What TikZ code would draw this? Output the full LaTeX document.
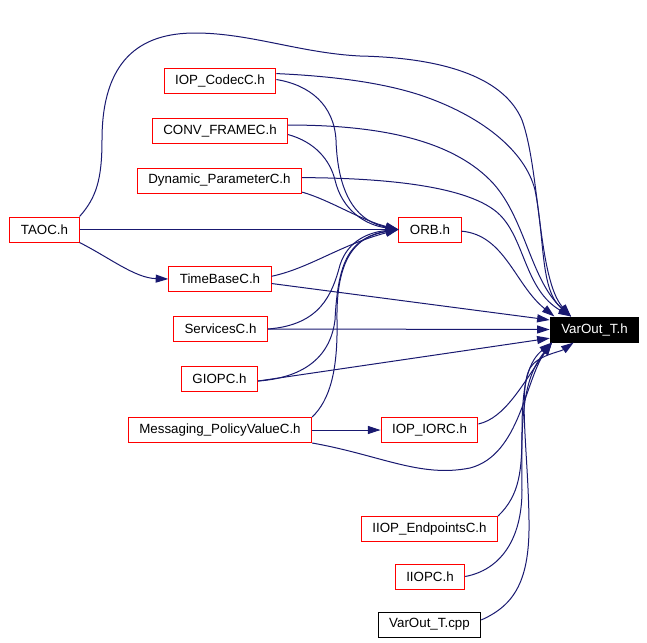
\documentclass[tikz,border=0pt]{standalone}
\usepackage{fontspec}
\setmainfont{Liberation Sans}
\usetikzlibrary{arrows.meta}
\definecolor{edgeblue}{HTML}{191970}
\begin{document}
\begin{tikzpicture}[
    x=0.75pt, y=-0.75pt,
    file/.style={rectangle, draw=red, line width=0.75pt, fill=white, inner xsep=8.25pt, minimum height=18.75pt, font=\fontsize{10}{12}\selectfont},
    plainfile/.style={file, draw=black},
    mainfile/.style={file, draw=black, fill=black, text=white},
    arrow/.style={draw=edgeblue, line width=0.75pt, -{Triangle[length=9.5pt,width=6pt]}}
]
    \useasboundingbox (0,0) rectangle (647,643);
    \node[file] (taoc) at (44.5,229.5) {TAOC.h};
    \node[file] (codec) at (220,80.5) {IOP\_CodecC.h};
    \node[file] (conv) at (220,131) {CONV\_FRAMEC.h};
    \node[file] (dynparam) at (219.5,180.5) {Dynamic\_ParameterC.h};
    \node[file] (timebase) at (220,279) {TimeBaseC.h};
    \node[file] (services) at (220.5,329) {ServicesC.h};
    \node[file] (giopc) at (219.5,379) {GIOPC.h};
    \node[file] (msgpolicy) at (220,430) {Messaging\_PolicyValueC.h};
    \node[file] (orb) at (430,229.5) {ORB.h};
    \node[mainfile] (varout) at (594.5,329.5) {VarOut\_T.h};
    \node[file] (iorc) at (429.5,430) {IOP\_IORC.h};
    \node[file] (endpoints) at (429.5,529) {IIOP\_EndpointsC.h};
    \node[file] (iiopc) at (430,576.5) {IIOPC.h};
    \node[plainfile] (varoutcpp) at (429.5,624.5) {VarOut\_T.cpp};

    \draw[arrow] (taoc.east) -- (orb.west);
    \draw[arrow] (taoc.south east) .. controls (110,258) and (135,278) .. (timebase.west);
    \draw[arrow] (taoc.north east) .. controls (96,198) and (102,180) .. (102,140)
        .. controls (102,60) and (140,33) .. (195,33)
        .. controls (250,33) and (300,53) .. (360,56)
        .. controls (450,58) and (505,80) .. (522,120)
        .. controls (540,170) and (538,280) .. (varout.151);

    \draw[arrow] (codec.7) .. controls (330,76) and (380,82) .. (420,95)
        .. controls (480,115) and (525,150) .. (535,190)
        .. controls (545,240) and (540,290) .. (varout.151);
    \draw[arrow] (codec.1) .. controls (310,85) and (334,105) .. (336,140)
        .. controls (338,200) and (360,222) .. (orb.west);

    \draw[arrow] (conv.5) .. controls (380,125) and (450,140) .. (490,180)
        .. controls (525,215) and (530,280) .. (varout.151);
    \draw[arrow] (conv.-3) .. controls (315,142) and (330,160) .. (335,180)
        .. controls (342,210) and (365,225) .. (orb.west);

    \draw[arrow] (dynparam.2) .. controls (380,178) and (470,185) .. (500,215)
        .. controls (525,240) and (525,290) .. (varout.151);
    \draw[arrow] (dynparam.-8) .. controls (330,200) and (360,220) .. (orb.west);

    \draw[arrow] (timebase.3) .. controls (310,268) and (340,245) .. (orb.west);
    \draw[arrow] (timebase.-5) -- (varout.168);

    \draw[arrow] (services.east) .. controls (320,325) and (332,295) .. (340,265)
        .. controls (348,240) and (370,232) .. (orb.west);
    \draw[arrow] (services.east) -- (varout.west);

    \draw[arrow] (giopc.-3) .. controls (300,378) and (330,360) .. (335,320)
        .. controls (338,260) and (350,238) .. (orb.west);
    \draw[arrow] (giopc.-3) -- (varout.191);

    \draw[arrow] (msgpolicy.north east) .. controls (330,400) and (338,370) .. (337,320)
        .. controls (336,260) and (355,236) .. (orb.west);
    \draw[arrow] (msgpolicy.east) -- (iorc.west);
    \draw[arrow] (msgpolicy.south east) .. controls (380,455) and (420,478) .. (470,468)
        .. controls (520,455) and (525,380) .. (varout.197);

    \draw[arrow] (orb.-3) .. controls (505,235) and (515,285) .. (varout.162);
    \draw[arrow] (iorc.7) .. controls (505,418) and (522,385) .. (varout.197);
    \draw[arrow] (endpoints.north east) .. controls (520,495) and (522,470) .. (522,430)
        .. controls (522,380) and (530,360) .. (varout.197);
    \draw[arrow] (iiopc.east) .. controls (500,570) and (522,540) .. (522,490)
        .. controls (521,420) and (522,380) .. (varout.197);
    \draw[arrow] (varoutcpp.5) .. controls (515,605) and (530,580) .. (529,520)
        .. controls (528,450) and (518,390) .. (530,368)
        .. controls (538,355) and (560,352) .. (varout.212);
\end{tikzpicture}
\end{document}
